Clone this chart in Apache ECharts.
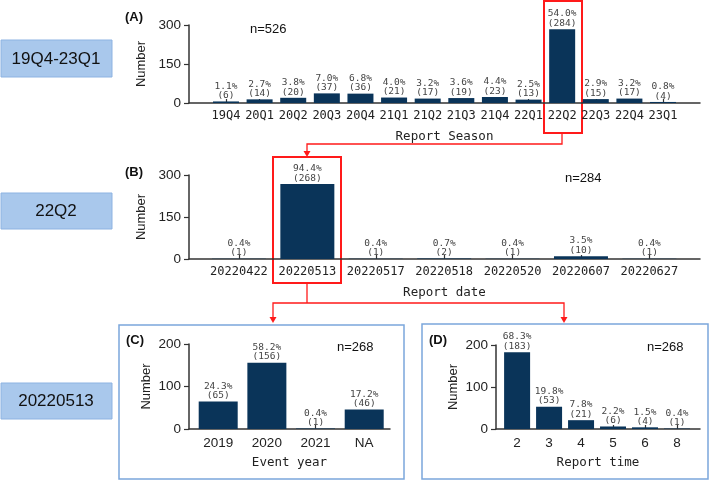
<!DOCTYPE html>
<html>
<head>
<meta charset="utf-8">
<script src="https://cdn.jsdelivr.net/npm/echarts@6/dist/echarts.min.js"></script>
<style>html,body{margin:0;padding:0;background:#fff;}#c{width:709px;height:481px;}</style>
</head>
<body>
<div id="c"></div>
<script>
const seasonCats = ['19Q4','20Q1','20Q2','20Q3','20Q4','21Q1','21Q2','21Q3','21Q4','22Q1','22Q2','22Q3','22Q4','23Q1'];
const seasonCounts = [6,14,20,37,36,21,17,19,23,13,284,15,17,4];
const seasonPct = ['1.1','2.7','3.8','7.0','6.8','4.0','3.2','3.6','4.4','2.5','54.0','2.9','3.2','0.8'];
const dateCats = ['20220422','20220513','20220517','20220518','20220520','20220607','20220627'];
const dateCounts = [1,268,1,2,1,10,1];
const datePct = ['0.4','94.4','0.4','0.7','0.4','3.5','0.4'];
const yearCats = ['2019','2020','2021','NA'];
const yearCounts = [65,156,1,46];
const yearPct = ['24.3','58.2','0.4','17.2'];
const timeCats = ['2','3','4','5','6','8'];
const timeCounts = [183,53,21,6,4,1];
const timePct = ['68.3','19.8','7.8','2.2','1.5','0.4'];
const yTicksAB = [0,150,300];
const yTicksCD = [0,100,200];

const BAR = '#0a3459';
const AX = '#333';
const MONO = 'DejaVu Sans Mono';
const SANS = 'Liberation Sans, Arial, sans-serif';

function idx(n){ return Array.from({length:n}, (_, i) => i); }

function xAxis(gi, cats, min, max, name, fs){
  const vals = idx(cats.length);
  return {
    gridIndex: gi, type: 'value', min: min, max: max,
    name: name, nameLocation: 'middle', nameGap: 27,
    nameTextStyle: {fontFamily: MONO, fontSize: 12.5, color: '#222'},
    axisLine: {show: true, onZero: false, lineStyle: {color: AX, width: 1.5}},
    axisTick: {show: true, inside: true, length: 4, customValues: vals, lineStyle: {color: AX, width: 1.2}},
    axisLabel: {customValues: vals, formatter: v => cats[Math.round(v)], fontFamily: fs.family, fontSize: fs.size, color: '#222', margin: 7},
    splitLine: {show: false}
  };
}
function yAxis(gi, ticks){
  return {
    gridIndex: gi, type: 'value', min: 0, max: ticks[ticks.length-1], interval: ticks[1]-ticks[0],
    name: 'Number', nameLocation: 'middle', nameGap: 36, nameRotate: 90,
    nameTextStyle: {fontFamily: SANS, fontSize: 13, color: '#222'},
    axisLine: {show: true, onZero: false, lineStyle: {color: AX, width: 1.5}},
    axisTick: {show: true, length: 5, lineStyle: {color: AX, width: 1.2}},
    axisLabel: {fontFamily: SANS, fontSize: 13.5, color: '#222', margin: 8},
    splitLine: {show: false}
  };
}
function bars(gi, counts, pct, w){
  return {
    type: 'bar', xAxisIndex: gi, yAxisIndex: gi, barWidth: w,
    data: counts.map((v, i) => [i, v]),
    itemStyle: {color: BAR},
    label: {show: true, position: 'top', distance: 1, fontFamily: MONO, fontSize: 9.5, lineHeight: 9.5, color: '#444',
      formatter: p => pct[p.dataIndex] + '%\n(' + counts[p.dataIndex] + ')'}
  };
}

const red = '#ff1a1a';
const graphic = [
  {type:'rect', shape:{x:1,y:40,width:111,height:37}, style:{fill:'#a9c8ec', stroke:'#8db3e2', lineWidth:1}},
  {type:'text', style:{x:56,y:59,text:'19Q4-23Q1',font:'17px '+SANS,fill:'#111',textAlign:'center',textVerticalAlign:'middle',align:'center',verticalAlign:'middle'}},
  {type:'rect', shape:{x:1,y:193,width:111,height:36}, style:{fill:'#a9c8ec', stroke:'#8db3e2', lineWidth:1}},
  {type:'text', style:{x:56,y:211,text:'22Q2',font:'17px '+SANS,fill:'#111',textAlign:'center',textVerticalAlign:'middle',align:'center',verticalAlign:'middle'}},
  {type:'rect', shape:{x:1,y:383,width:111,height:36}, style:{fill:'#a9c8ec', stroke:'#8db3e2', lineWidth:1}},
  {type:'text', style:{x:56,y:401,text:'20220513',font:'17px '+SANS,fill:'#111',textAlign:'center',textVerticalAlign:'middle',align:'center',verticalAlign:'middle'}},
  {type:'rect', shape:{x:119,y:325,width:285,height:154}, style:{fill:'none', stroke:'#7ba7dc', lineWidth:1.5}},
  {type:'rect', shape:{x:422,y:324,width:286,height:155}, style:{fill:'none', stroke:'#7ba7dc', lineWidth:1.5}},
  {type:'text', style:{x:125,y:17,text:'(A)',font:'bold 13px '+SANS,fill:'#111',textVerticalAlign:'middle',verticalAlign:'middle'}},
  {type:'text', style:{x:125,y:172,text:'(B)',font:'bold 13px '+SANS,fill:'#111',textVerticalAlign:'middle',verticalAlign:'middle'}},
  {type:'text', style:{x:126,y:340,text:'(C)',font:'bold 13px '+SANS,fill:'#111',textVerticalAlign:'middle',verticalAlign:'middle'}},
  {type:'text', style:{x:429,y:340,text:'(D)',font:'bold 13px '+SANS,fill:'#111',textVerticalAlign:'middle',verticalAlign:'middle'}},
  {type:'text', style:{x:250,y:29,text:'n=526',font:'13px '+SANS,fill:'#111',textVerticalAlign:'middle',verticalAlign:'middle'}},
  {type:'text', style:{x:565,y:178,text:'n=284',font:'13px '+SANS,fill:'#111',textVerticalAlign:'middle',verticalAlign:'middle'}},
  {type:'text', style:{x:337,y:347,text:'n=268',font:'13px '+SANS,fill:'#111',textVerticalAlign:'middle',verticalAlign:'middle'}},
  {type:'text', style:{x:647,y:347,text:'n=268',font:'13px '+SANS,fill:'#111',textVerticalAlign:'middle',verticalAlign:'middle'}},
  {type:'rect', shape:{x:544,y:1,width:38,height:132}, style:{fill:'none', stroke:red, lineWidth:2}},
  {type:'rect', shape:{x:273,y:157,width:68,height:126}, style:{fill:'none', stroke:red, lineWidth:2}},
  {type:'polyline', shape:{points:[[562,133],[562,144],[307,144],[307,152]]}, style:{fill:'none', stroke:red, lineWidth:1.3}},
  {type:'polygon', shape:{points:[[303.5,151],[310.5,151],[307,157]]}, style:{fill:red}},
  {type:'polyline', shape:{points:[[307,283],[307,303]]}, style:{fill:'none', stroke:red, lineWidth:1.3}},
  {type:'polyline', shape:{points:[[273,318],[273,303],[564,303],[564,318]]}, style:{fill:'none', stroke:red, lineWidth:1.3}},
  {type:'polygon', shape:{points:[[269.5,317],[276.5,317],[273,323]]}, style:{fill:red}},
  {type:'polygon', shape:{points:[[560.5,317],[567.5,317],[564,323]]}, style:{fill:red}}
];

const option = {
  animation: false,
  backgroundColor: '#fff',
  grid: [
    {left:189, top:25, width:511, height:78},
    {left:189, top:175, width:511, height:84},
    {left:189, top:344, width:201, height:85},
    {left:496, top:345, width:204, height:84}
  ],
  xAxis: [
    xAxis(0, seasonCats, -1.1, 14.1, 'Report Season', {family: MONO, size: 12}),
    xAxis(1, dateCats, -0.73, 6.74, 'Report date', {family: MONO, size: 12}),
    xAxis(2, yearCats, -0.6, 3.53, 'Event year', {family: SANS, size: 13.5}),
    xAxis(3, timeCats, -0.66, 5.72, 'Report time', {family: SANS, size: 13.5})
  ],
  yAxis: [yAxis(0, yTicksAB), yAxis(1, yTicksAB), yAxis(2, yTicksCD), yAxis(3, yTicksCD)],
  series: [
    bars(0, seasonCounts, seasonPct, 26),
    bars(1, dateCounts, datePct, 54),
    bars(2, yearCounts, yearPct, 39),
    bars(3, timeCounts, timePct, 26)
  ],
  graphic: graphic
};
const chart = echarts.init(document.getElementById('c'), null, {renderer: 'canvas'});
chart.setOption(option);
</script>
</body>
</html>
